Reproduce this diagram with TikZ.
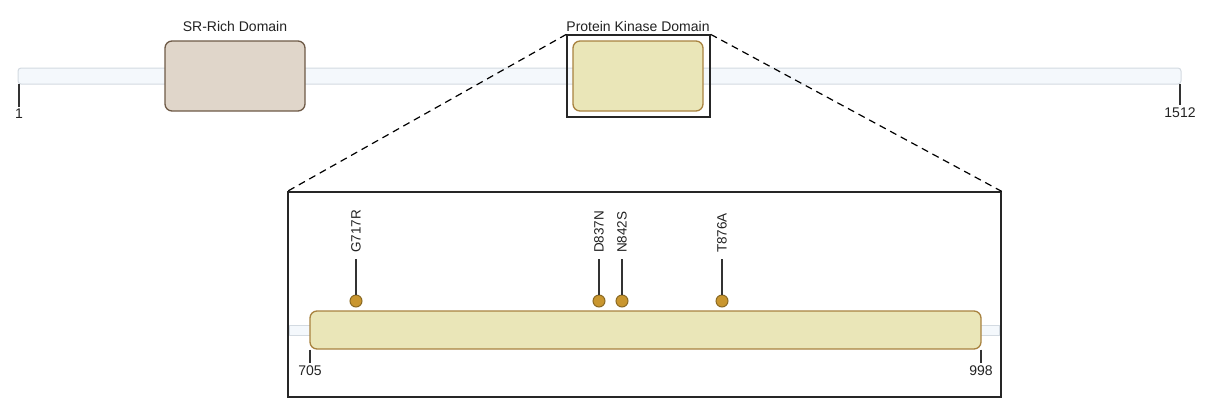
\documentclass[tikz,border=0pt]{standalone}
\usepackage{fontspec}
\setmainfont{Liberation Sans}
\usetikzlibrary{positioning}
\definecolor{bbfill}{HTML}{F4F8FC}
\definecolor{bbline}{HTML}{D3DAE1}
\definecolor{srfill}{HTML}{E0D6CA}
\definecolor{srline}{HTML}{6E5A47}
\definecolor{kinfill}{HTML}{EAE6B8}
\definecolor{kinline}{HTML}{A8823F}
\definecolor{mutfill}{HTML}{C9962F}
\definecolor{mutline}{HTML}{8B6A24}
\definecolor{txt}{HTML}{222222}

\begin{document}
\begin{tikzpicture}[x=1pt,y=-1pt,
    font=\fontsize{14}{16}\selectfont, text=txt,
    backbone/.style={draw=bbline,fill=bbfill,rounded corners=3pt,line width=1pt,inner sep=0pt},
    srdom/.style={draw=srline,fill=srfill,rounded corners=7pt,line width=1.3pt,inner sep=0pt},
    kindom/.style={draw=kinline,fill=kinfill,rounded corners=7pt,line width=1.3pt,inner sep=0pt},
    frm/.style={draw=black!85,line width=1.3pt,inner sep=0pt},
    tick/.style={draw=black!80,line width=1.2pt},
    mut/.style={circle,draw=mutline,fill=mutfill,line width=1pt,minimum size=12pt,inner sep=0pt},
    mutlabel/.style={rotate=90,anchor=west,inner sep=0pt,font=\fontsize{13.5}{16}\selectfont}]
  \useasboundingbox (0,0) rectangle (1207,405);

  % full protein
  \node[backbone,minimum width=1163pt,minimum height=16pt] (bb) at (599.5,76) {};
  \node[srdom,minimum width=140pt,minimum height=70pt] (sr) at (235,76) {};
  \node[kindom,minimum width=130pt,minimum height=70pt] (kin) at (638,76) {};
  \node[frm,minimum width=143pt,minimum height=82pt] (kinfrm) at (638.5,76) {};
  \node (srlab) at (235,26) {SR-Rich Domain};
  \node (kinlab) at (638,26) {Protein Kinase Domain};

  \coordinate (t1) at (19,84);
  \coordinate (t1512) at (1180,84);
  \draw[tick] (t1) -- ++(0,23) node[below,inner sep=1pt] (lab1) {1};
  \draw[tick] (t1512) -- ++(0,21) node[below,inner sep=2pt] (lab1512) {1512};

  % zoomed kinase domain
  \node[frm,minimum width=713pt,minimum height=205pt] (zoom) at (644.5,294.5) {};
  \draw[line width=1.2pt,dash pattern=on 7pt off 5pt] (kinfrm.north west) -- (zoom.north west);
  \draw[line width=1.2pt,dash pattern=on 7pt off 5pt] (kinfrm.north east) -- (zoom.north east);

  \node[backbone,minimum width=710pt,minimum height=10pt,rounded corners=0pt] (bbzoom) at (644.5,330) {};
  \node[kindom,minimum width=671pt,minimum height=38pt] (kinzoom) at (645.5,330) {};

  \draw[tick] (kinzoom.south west) ++(0.7,0) coordinate (t705) -- ++(0,13) node[below,inner sep=2pt] (lab705) {705};
  \draw[tick] (kinzoom.south east) ++(-0.7,0) coordinate (t998) -- ++(0,13) node[below,inner sep=2pt] (lab998) {998};

  % mutations
  \foreach \name/\xpos in {G717R/356, D837N/599, N842S/622, T876A/722} {
    \node[mut] (m\name) at (\xpos,301) {};
    \coordinate (s\name) at (\xpos,259);
    \draw[tick] (m\name.north) -- (s\name);
    \node[mutlabel] (l\name) at (\xpos,253) {\name};
  }
\end{tikzpicture}
\end{document}
